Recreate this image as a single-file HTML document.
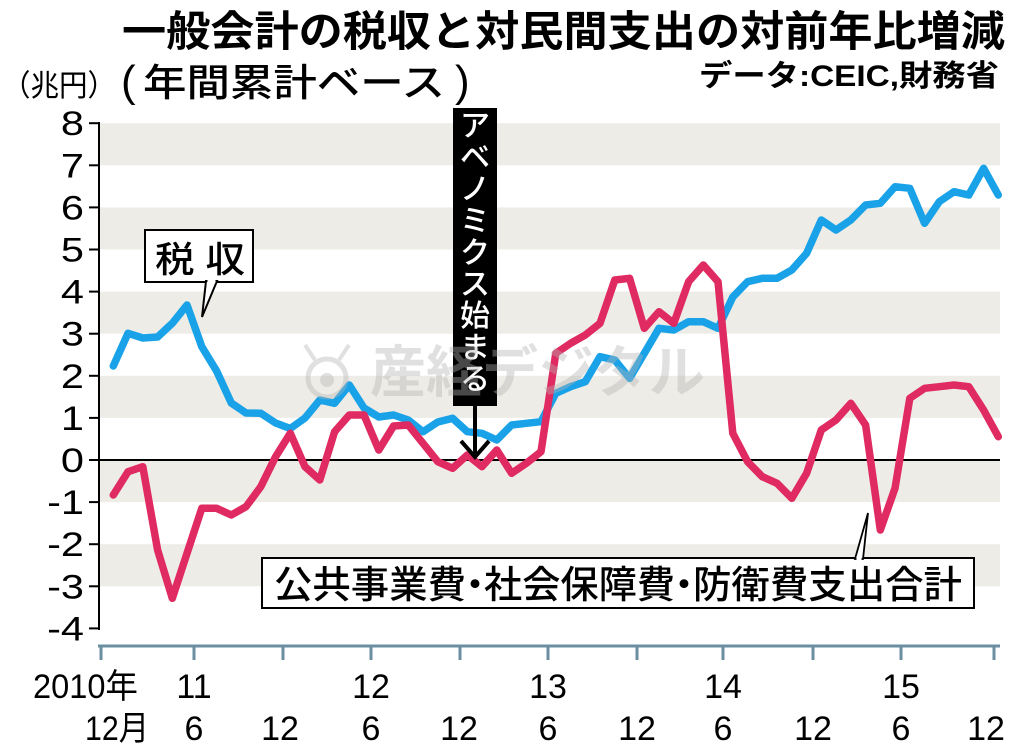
<!DOCTYPE html>
<html><head><meta charset="utf-8"><style>
html,body{margin:0;padding:0;background:#fff;}
svg{display:block;}
text{font-family:"Liberation Sans","Noto Sans CJK JP",sans-serif;}
</style></head><body>
<svg width="1024" height="746" viewBox="0 0 1024 746" xmlns="http://www.w3.org/2000/svg">
<rect width="1024" height="746" fill="#fff"/>
<!-- bands -->
<g fill="#eeece6">
<rect x="100" y="123.2" width="900" height="42.1"/>
<rect x="100" y="207.4" width="900" height="42.1"/>
<rect x="100" y="291.6" width="900" height="42.1"/>
<rect x="100" y="375.8" width="900" height="42.1"/>
<rect x="100" y="460" width="900" height="42.1"/>
<rect x="100" y="544.2" width="900" height="42.1"/>
</g>
<!-- title -->
<text x="122" y="46" font-size="42" font-weight="bold" textLength="883" lengthAdjust="spacingAndGlyphs">一般会計の税収と対民間支出の対前年比増減</text>
<text x="121" y="96" font-size="44" font-weight="500" font-family="Liberation Sans, sans-serif">(</text>
<text x="143" y="96" font-size="38" font-weight="500" textLength="302" lengthAdjust="spacingAndGlyphs">年間累計ベース</text>
<text x="455" y="96" font-size="44" font-weight="500" font-family="Liberation Sans, sans-serif">)</text>
<text x="2" y="96" font-size="30" textLength="114" lengthAdjust="spacingAndGlyphs">（兆円）</text>
<text x="699" y="86" font-size="30" font-weight="bold" textLength="300" lengthAdjust="spacingAndGlyphs">データ:CEIC,財務省</text>
<!-- y axis -->
<line x1="99" y1="122" x2="99" y2="630" stroke="#000" stroke-width="2"/>
<g stroke="#000" stroke-width="2">
<line x1="89" y1="123.2" x2="99" y2="123.2"/>
<line x1="89" y1="165.3" x2="99" y2="165.3"/>
<line x1="89" y1="207.4" x2="99" y2="207.4"/>
<line x1="89" y1="249.5" x2="99" y2="249.5"/>
<line x1="89" y1="291.6" x2="99" y2="291.6"/>
<line x1="89" y1="333.7" x2="99" y2="333.7"/>
<line x1="89" y1="375.8" x2="99" y2="375.8"/>
<line x1="89" y1="417.9" x2="99" y2="417.9"/>
<line x1="89" y1="460" x2="99" y2="460"/>
<line x1="89" y1="502.1" x2="99" y2="502.1"/>
<line x1="89" y1="544.2" x2="99" y2="544.2"/>
<line x1="89" y1="586.3" x2="99" y2="586.3"/>
<line x1="89" y1="628.4" x2="99" y2="628.4"/>
</g>
<g font-size="34" text-anchor="end" font-family="Liberation Sans, sans-serif">
<text transform="translate(84,135.2) scale(1.22,1)">8</text>
<text transform="translate(84,177.3) scale(1.22,1)">7</text>
<text transform="translate(84,219.4) scale(1.22,1)">6</text>
<text transform="translate(84,261.5) scale(1.22,1)">5</text>
<text transform="translate(84,303.6) scale(1.22,1)">4</text>
<text transform="translate(84,345.7) scale(1.22,1)">3</text>
<text transform="translate(84,387.8) scale(1.22,1)">2</text>
<text transform="translate(84,429.9) scale(1.22,1)">1</text>
<text transform="translate(84,472) scale(1.22,1)">0</text>
<text transform="translate(84,514.1) scale(1.22,1)">-1</text>
<text transform="translate(84,556.2) scale(1.22,1)">-2</text>
<text transform="translate(84,598.3) scale(1.22,1)">-3</text>
<text transform="translate(84,640.4) scale(1.22,1)">-4</text>
</g>
<!-- zero line -->
<line x1="99" y1="460" x2="1000" y2="460" stroke="#000" stroke-width="2"/>
<!-- x axis -->
<g stroke="#6b8fa1" stroke-width="3">
<line x1="98" y1="646" x2="1000" y2="646"/>
<line x1="101" y1="646" x2="101" y2="660"/>
<line x1="194" y1="646" x2="194" y2="660"/>
<line x1="283" y1="646" x2="283" y2="660"/>
<line x1="371" y1="646" x2="371" y2="660"/>
<line x1="460" y1="646" x2="460" y2="660"/>
<line x1="548" y1="646" x2="548" y2="660"/>
<line x1="637" y1="646" x2="637" y2="660"/>
<line x1="723" y1="646" x2="723" y2="660"/>
<line x1="813" y1="646" x2="813" y2="660"/>
<line x1="901" y1="646" x2="901" y2="660"/>
<line x1="994" y1="646" x2="994" y2="660"/>
</g>
<g font-size="34">
<text x="33" y="698" textLength="105" lengthAdjust="spacingAndGlyphs">2010年</text>
<text x="85" y="740" textLength="64" lengthAdjust="spacingAndGlyphs">12月</text>
</g>
<g font-size="34" text-anchor="middle" font-family="Liberation Sans, sans-serif">
<text x="194" y="698">11</text>
<text x="371" y="698">12</text>
<text x="548" y="698">13</text>
<text x="723" y="698">14</text>
<text x="901" y="698">15</text>
<text x="194" y="740">6</text>
<text x="280" y="740">12</text>
<text x="371" y="740">6</text>
<text x="459" y="740">12</text>
<text x="548" y="740">6</text>
<text x="637" y="740">12</text>
<text x="723" y="740">6</text>
<text x="813" y="740">12</text>
<text x="901" y="740">6</text>
<text x="986" y="740">12</text>
</g>
<!-- series -->
<path fill="none" stroke="#1aa2e8" stroke-width="7.5" stroke-linejoin="round" stroke-linecap="round" d="M113.3,366 L128,333.3 L142.8,338 L157.6,337 L172.3,323.3 L187,305 L201.8,346.7 L216.6,371 L231.3,403 L246,413 L260.8,413.3 L275.6,423 L290.3,428.5 L305,418 L319.8,400 L334.6,403.3 L349.3,385 L364,408 L378.8,417 L393.6,415 L408.3,420 L423,431.7 L437.8,422 L452.6,418.3 L467.3,431.7 L482,433.3 L496.8,440 L511.6,425 L526.3,423.3 L541,421.7 L555.8,393.3 L570.6,386.7 L585.3,381.7 L600,356.7 L614.8,360 L629.6,378.3 L644.3,353.3 L659,328.3 L673.8,330 L688.6,321.7 L703.3,321.7 L718,328.3 L732.8,297 L747.6,281.7 L762.3,278.3 L777,278.3 L791.8,270 L806.6,253.3 L821.3,220 L836,230 L850.8,220 L865.6,205 L880.3,203.3 L895,186.7 L909.8,188.3 L924.6,223.3 L939.3,201.7 L954,191.7 L968.8,195 L983.6,168.3 L998.3,195"/>
<path fill="none" stroke="#e02a62" stroke-width="7.5" stroke-linejoin="round" stroke-linecap="round" d="M113.3,495 L128,471.7 L142.8,466.7 L157.6,550 L172.3,598.3 L187,553.3 L201.8,508.3 L216.6,508.3 L231.3,515 L246,506.7 L260.8,486.7 L275.6,456.7 L290.3,433.3 L305,466.7 L319.8,480 L334.6,431.7 L349.3,415 L364,415 L378.8,450 L393.6,426 L408.3,425 L423,443.3 L437.8,461.7 L452.6,468.3 L467.3,455 L482,466.7 L496.8,450 L511.6,473.3 L526.3,463.3 L541,451.7 L555.8,353.3 L570.6,343.3 L585.3,335 L600,323.3 L614.8,280 L629.6,278.3 L644.3,328.3 L659,311.7 L673.8,323.3 L688.6,281.7 L703.3,265 L718,281.7 L732.8,433.3 L747.6,461.7 L762.3,476.7 L777,483.3 L791.8,498.3 L806.6,473.3 L821.3,430 L836,420 L850.8,403.3 L865.6,425 L880.3,530 L895,488.3 L909.8,398.3 L924.6,388.3 L939.3,386.7 L954,385 L968.8,386.7 L983.6,410 L998.3,436.7"/>
<!-- tax label -->
<rect x="145" y="230" width="108" height="52" fill="#fff" stroke="#000" stroke-width="2"/>
<polygon points="206,281 202,317 217,281" fill="#fff" stroke="#000" stroke-width="2" stroke-linejoin="miter"/>
<rect x="207.5" y="279" width="8" height="4" fill="#fff"/>
<text x="155" y="272" font-size="36" font-weight="500" textLength="90" lengthAdjust="spacingAndGlyphs">税 収</text>
<!-- spending label -->
<rect x="262" y="558" width="712" height="50" fill="#fff" stroke="#000" stroke-width="2"/>
<polygon points="855,559 868,513 863,559" fill="#fff" stroke="#000" stroke-width="1.8"/>
<rect x="856.5" y="556" width="5" height="4" fill="#fff"/>
<g font-size="38" font-weight="500">
<text x="274" y="598" textLength="192" lengthAdjust="spacingAndGlyphs">公共事業費</text>
<text x="475" y="598" text-anchor="middle">・</text>
<text x="484" y="598" textLength="191" lengthAdjust="spacingAndGlyphs">社会保障費</text>
<text x="684" y="598" text-anchor="middle">・</text>
<text x="693" y="598" textLength="269" lengthAdjust="spacingAndGlyphs">防衛費支出合計</text>
</g>
<!-- abenomics -->
<rect x="453" y="108" width="44" height="298" fill="#000"/>
<g fill="#fff" font-size="30" font-weight="500" text-anchor="middle" dominant-baseline="central">
<text x="475" y="126.5">ア</text>
<text x="475" y="158.2">ベ</text>
<text x="475" y="189.9">ノ</text>
<text x="475" y="221.6">ミ</text>
<text x="475" y="253.3">ク</text>
<text x="475" y="285">ス</text>
<text x="475" y="316.7">始</text>
<text x="475" y="348.4">ま</text>
<text x="475" y="380.1">る</text>
</g>
<line x1="475" y1="405" x2="475" y2="456" stroke="#000" stroke-width="4"/>
<polyline points="461,441 475,457 489,441" fill="none" stroke="#000" stroke-width="4"/>
<!-- watermark -->
<g opacity="0.4" fill="#b4b4b4" stroke="none">
<circle cx="327" cy="378" r="19" fill="none" stroke="#b4b4b4" stroke-width="5"/>
<circle cx="327" cy="380" r="7"/>
<line x1="315" y1="360" x2="305" y2="345" stroke="#b4b4b4" stroke-width="4"/>
<line x1="339" y1="360" x2="349" y2="345" stroke="#b4b4b4" stroke-width="4"/>
<text x="370" y="392" font-size="56" font-weight="bold" textLength="335" lengthAdjust="spacingAndGlyphs">産経デジタル</text>
</g>
</svg>
</body></html>
